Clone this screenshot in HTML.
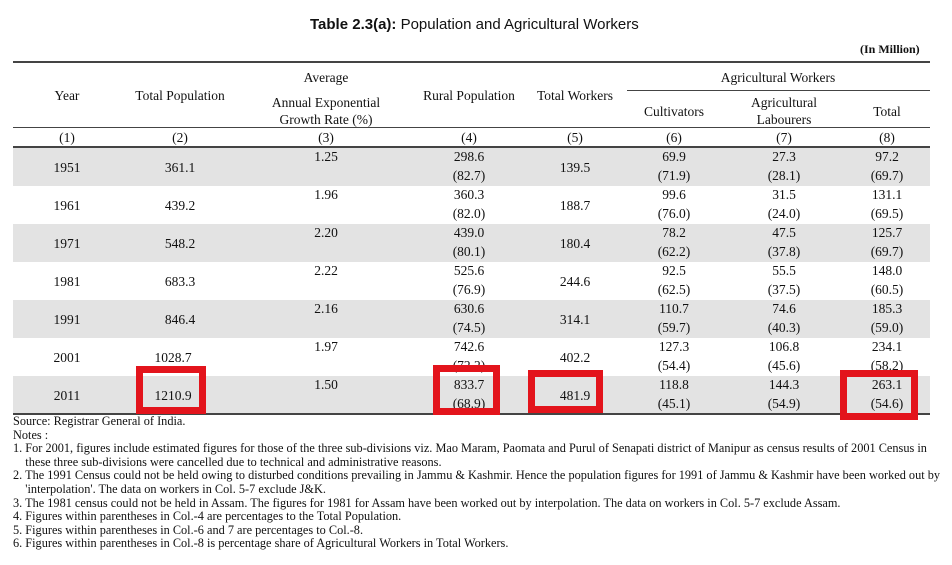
<!DOCTYPE html>
<html><head><style>
body{margin:0;width:952px;height:565px;background:#fff;font-family:"Liberation Serif","DejaVu Serif",serif;color:#111;position:relative;overflow:hidden}
.a{position:absolute;white-space:nowrap}
.c{position:absolute;text-align:center;font-size:13.5px;transform:translateX(-50%);white-space:nowrap}
.band{position:absolute;left:13px;width:917px;height:38px;background:#e3e3e3}
.ln{position:absolute;left:13px;width:917px;background:#444}
.box{position:absolute;border:7px solid #e3141c;box-sizing:border-box}
.n{position:absolute;left:13px;font-size:12.3px;line-height:13.6px;width:935px;white-space:nowrap}
</style></head><body>
<div class="a" style="left:310px;top:16px;font-size:15px;font-family:'Liberation Sans',sans-serif"><b>Table 2.3(a):</b> Population and Agricultural Workers</div>
<div class="a" style="left:860px;top:42px;font-size:12px;font-weight:bold">(In Million)</div>
<div class="ln" style="top:61px;height:2px"></div>
<div class="ln" style="top:127px;height:1px"></div>
<div class="ln" style="top:146px;height:2px"></div>
<div class="ln" style="top:413px;height:2px"></div>
<div style="position:absolute;left:627px;top:90px;width:303px;height:1px;background:#444"></div>
<div class="band" style="top:148px"></div>
<div class="band" style="top:224px"></div>
<div class="band" style="top:300px"></div>
<div class="band" style="top:376px;height:37px"></div>
<div class="c" style="left:67px;top:88px">Year</div>
<div class="c" style="left:180px;top:88px">Total Population</div>
<div class="c" style="left:326px;top:70px">Average</div>
<div class="c" style="left:326px;top:95px">Annual Exponential</div>
<div class="c" style="left:326px;top:112px">Growth Rate (%)</div>
<div class="c" style="left:469px;top:88px">Rural Population</div>
<div class="c" style="left:575px;top:88px">Total Workers</div>
<div class="c" style="left:778px;top:70px">Agricultural Workers</div>
<div class="c" style="left:674px;top:104px">Cultivators</div>
<div class="c" style="left:784px;top:95px">Agricultural</div>
<div class="c" style="left:784px;top:112px">Labourers</div>
<div class="c" style="left:887px;top:104px">Total</div>
<div id="rows"></div>
<div class="box" style="left:136px;top:366px;width:70px;height:48px"></div>
<div class="box" style="left:433px;top:365px;width:67px;height:50px"></div>
<div class="box" style="left:528px;top:370px;width:75px;height:43px"></div>
<div class="box" style="left:840px;top:370px;width:78px;height:50px"></div>
<div class="n" style="top:415px">Source: Registrar General of India.<br>Notes :<br>1. For 2001, figures include estimated figures for those of the three sub-divisions viz. Mao Maram, Paomata and Purul of Senapati district of Manipur as census results of 2001 Census in<br>&nbsp;&nbsp;&nbsp;&nbsp;these three sub-divisions were cancelled due to technical and administrative reasons.<br>2. The 1991 Census could not be held owing to disturbed conditions prevailing in Jammu &amp; Kashmir. Hence the population figures for 1991 of Jammu &amp; Kashmir have been worked out by<br>&nbsp;&nbsp;&nbsp;&nbsp;'interpolation'. The data on workers in Col. 5-7 exclude J&amp;K.<br>3. The 1981 census could not be held in Assam. The figures for 1981 for Assam have been worked out by interpolation. The data on workers in Col. 5-7 exclude Assam.<br>4. Figures within parentheses in Col.-4 are percentages to the Total Population.<br>5. Figures within parentheses in Col.-6 and 7 are percentages to Col.-8.<br>6. Figures within parentheses in Col.-8 is percentage share of Agricultural Workers in Total Workers.</div>
<script>
var X=[67,180,326,469,575,674,784,887];
var h='';
for(var i=0;i<8;i++)h+='<div class="c" style="left:'+X[i]+'px;top:130px">('+(i+1)+')</div>';
var D=[["1951","361.1","1.25","298.6","82.7","139.5","69.9","71.9","27.3","28.1","97.2","69.7"],
["1961","439.2","1.96","360.3","82.0","188.7","99.6","76.0","31.5","24.0","131.1","69.5"],
["1971","548.2","2.20","439.0","80.1","180.4","78.2","62.2","47.5","37.8","125.7","69.7"],
["1981","683.3","2.22","525.6","76.9","244.6","92.5","62.5","55.5","37.5","148.0","60.5"],
["1991","846.4","2.16","630.6","74.5","314.1","110.7","59.7","74.6","40.3","185.3","59.0"],
["2001","1028.7","1.97","742.6","72.2","402.2","127.3","54.4","106.8","45.6","234.1","58.2"],
["2011","1210.9","1.50","833.7","68.9","481.9","118.8","45.1","144.3","54.9","263.1","54.6"]];
D.forEach(function(r,k){var t=148+k*38;
function c(x,y,s){h+='<div class="c" style="left:'+x+'px;top:'+(t+y)+'px">'+s+'</div>';}
var x2=k>=5?173:180;
c(67,12,r[0]);c(x2,12,r[1]);c(326,1,r[2]);c(469,1,r[3]);c(469,20,'('+r[4]+')');c(575,12,r[5]);
c(674,1,r[6]);c(674,20,'('+r[7]+')');c(784,1,r[8]);c(784,20,'('+r[9]+')');c(887,1,r[10]);c(887,20,'('+r[11]+')');});
document.getElementById('rows').innerHTML=h;
</script>
</body></html>
